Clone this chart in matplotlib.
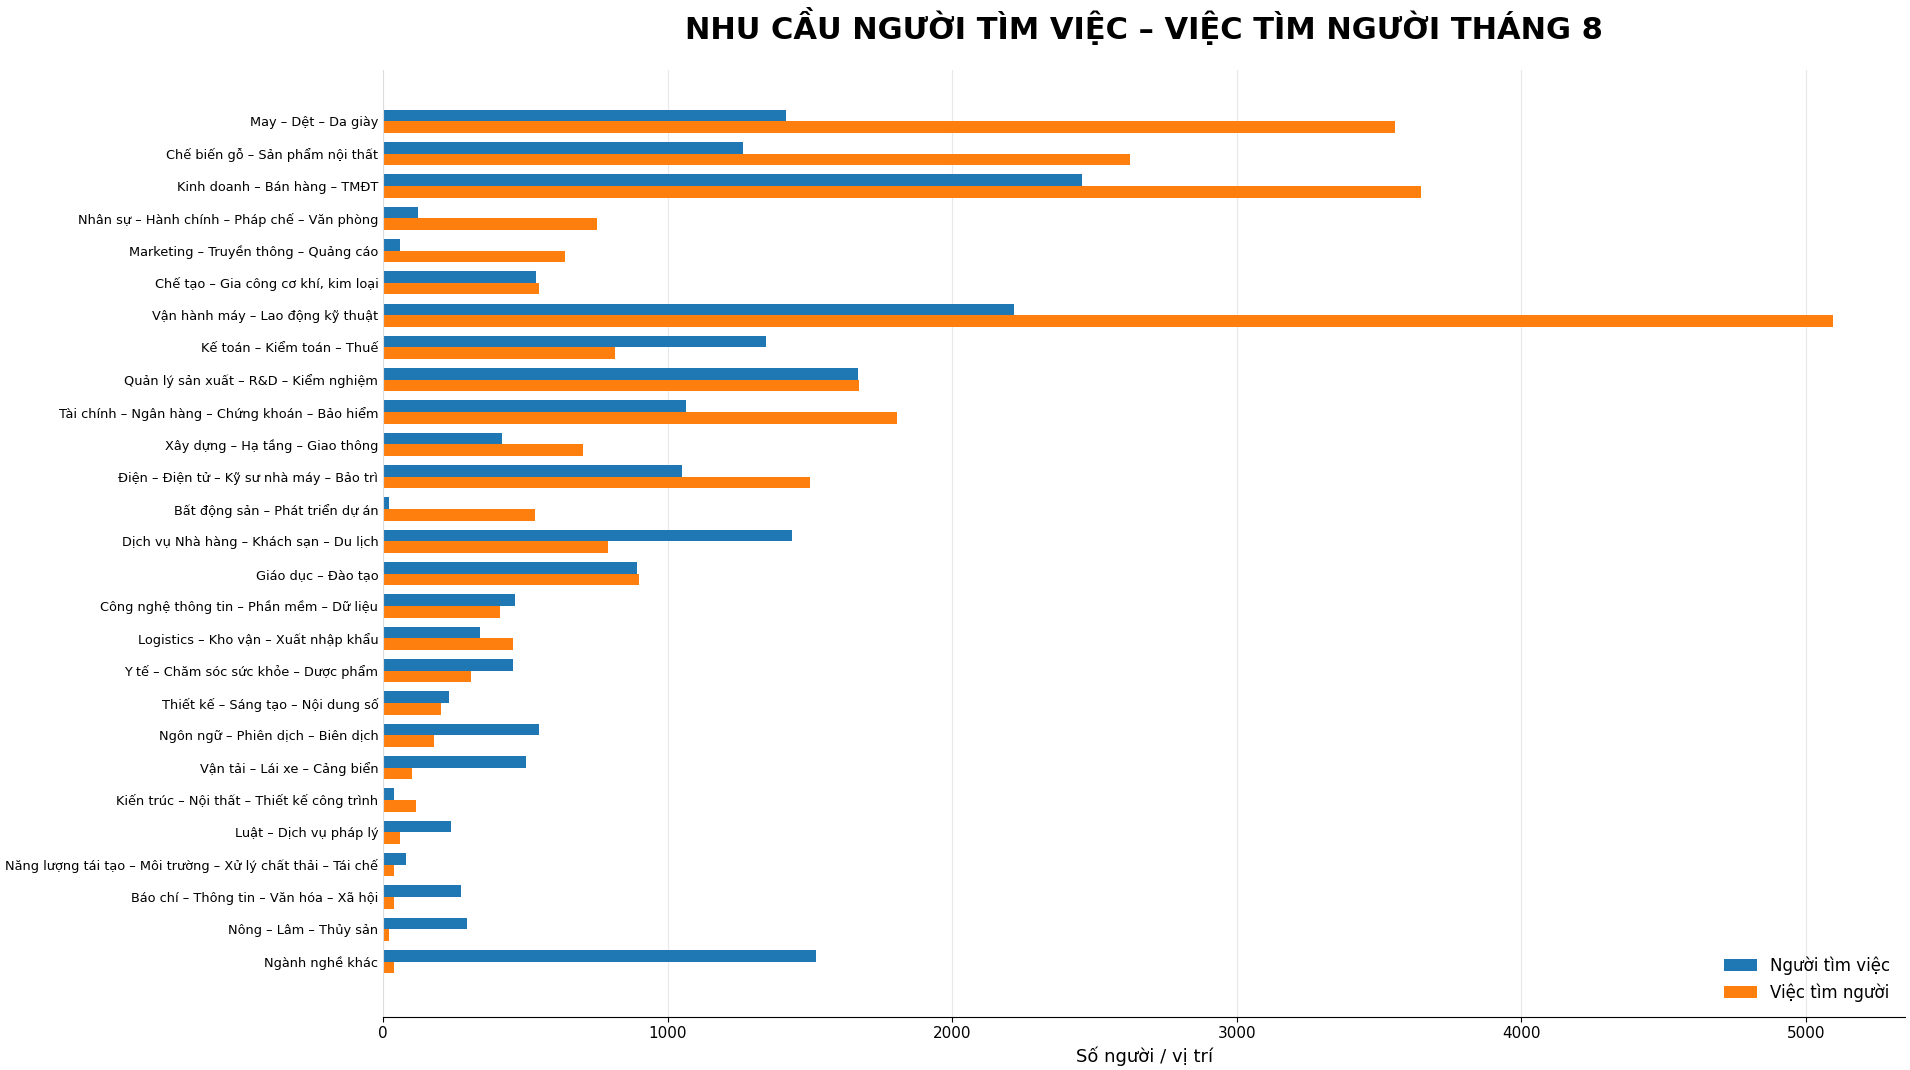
import numpy as np
import matplotlib.pyplot as plt

categories = [
    "May – Dệt – Da giày",
    "Chế biến gỗ – Sản phẩm nội thất",
    "Kinh doanh – Bán hàng – TMĐT",
    "Nhân sự – Hành chính – Pháp chế – Văn phòng",
    "Marketing – Truyền thông – Quảng cáo",
    "Chế tạo – Gia công cơ khí, kim loại",
    "Vận hành máy – Lao động kỹ thuật",
    "Kế toán – Kiểm toán – Thuế",
    "Quản lý sản xuất – R&D – Kiểm nghiệm",
    "Tài chính – Ngân hàng – Chứng khoán – Bảo hiểm",
    "Xây dựng – Hạ tầng – Giao thông",
    "Điện – Điện tử – Kỹ sư nhà máy – Bảo trì",
    "Bất động sản – Phát triển dự án",
    "Dịch vụ Nhà hàng – Khách sạn – Du lịch",
    "Giáo dục – Đào tạo",
    "Công nghệ thông tin – Phần mềm – Dữ liệu",
    "Logistics – Kho vận – Xuất nhập khẩu",
    "Y tế – Chăm sóc sức khỏe – Dược phẩm",
    "Thiết kế – Sáng tạo – Nội dung số",
    "Ngôn ngữ – Phiên dịch – Biên dịch",
    "Vận tải – Lái xe – Cảng biển",
    "Kiến trúc – Nội thất – Thiết kế công trình",
    "Luật – Dịch vụ pháp lý",
    "Năng lượng tái tạo – Môi trường – Xử lý chất thải – Tái chế",
    "Báo chí – Thông tin – Văn hóa – Xã hội",
    "Nông – Lâm – Thủy sản",
    "Ngành nghề khác",
]
nguoi_tim_viec = [1415, 1265, 2457, 124, 60, 536, 2217, 1346, 1668, 1063, 416, 1051, 21, 1437,
                  892, 463, 339, 455, 232, 549, 502, 39, 240, 81, 274, 296, 1522]
viec_tim_nguoi = [3555, 2624, 3649, 750, 639, 549, 5094, 815, 1672, 1805, 703, 1501, 532, 789,
                  900, 412, 455, 309, 202, 180, 103, 116, 60, 39, 39, 21, 39]

fig = plt.figure(figsize=(19.1, 10.7), dpi=100)
ax = fig.add_axes([0.2006, 0.05, 0.797, 0.885])

y = np.arange(len(categories))
h = 0.36
ax.barh(y - h / 2, nguoi_tim_viec, height=h, color="#1f77b4", label="Người tìm việc", zorder=2)
ax.barh(y + h / 2, viec_tim_nguoi, height=h, color="#ff7f0e", label="Việc tìm người", zorder=2)

ax.set_yticks(y)
ax.set_yticklabels(categories, fontsize=9.3)
ax.set_ylim(27.7, -1.6)
ax.set_xlim(0, 5350)
ax.tick_params(axis="x", labelsize=11)
ax.tick_params(axis="y", length=0)
ax.grid(axis="x", color="#e8e8e8", linewidth=0.8, zorder=0)
for s in ["top", "right"]:
    ax.spines[s].set_visible(False)
ax.spines["left"].set_color("#dddddd")
ax.set_xlabel("Số người / vị trí", fontsize=13)
ax.set_title("NHU CẦU NGƯỜI TÌM VIỆC – VIỆC TÌM NGƯỜI THÁNG 8", fontsize=22, fontweight="bold", pad=22)
ax.legend(loc="lower right", frameon=False, fontsize=12)

fig.savefig("out.png", dpi=100)
